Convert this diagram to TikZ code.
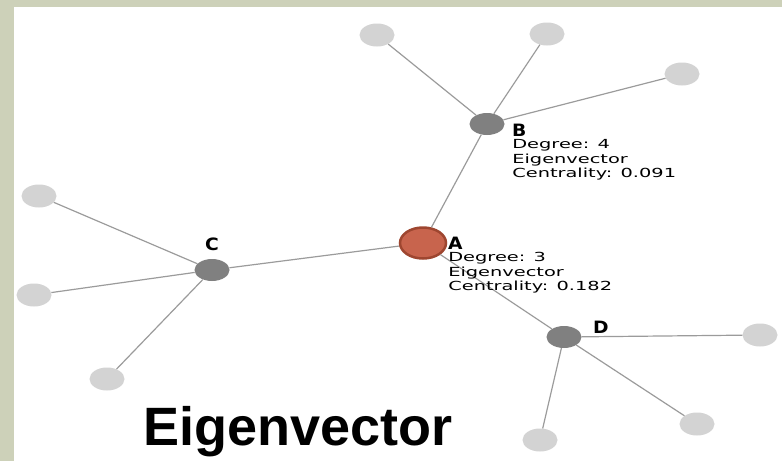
\documentclass[tikz,border=0pt]{standalone}
\usepackage{fontspec}
\setmainfont{DejaVu Sans}
\newfontfamily\titlefont{Liberation Sans}
\usetikzlibrary{shapes,positioning,calc}

\definecolor{bandgreen}{RGB}{205,209,185}
\definecolor{hubgrey}{RGB}{128,128,128}
\definecolor{leafgrey}{RGB}{211,211,211}
\definecolor{edgegrey}{RGB}{155,155,155}
\definecolor{afill}{RGB}{200,100,77}
\definecolor{aborder}{RGB}{158,70,48}

\begin{document}
\begin{tikzpicture}[x=1pt,y=-1pt]
  % Define styles
  \tikzstyle{hub} = [ellipse, fill=hubgrey, minimum width=35pt, minimum height=22pt, inner sep=0pt]
  \tikzstyle{leaf} = [ellipse, fill=leafgrey, minimum width=35pt, minimum height=23pt, inner sep=0pt]
  \tikzstyle{focus} = [ellipse, draw=aborder, line width=2.5pt, fill=afill, minimum width=46pt, minimum height=31pt, inner sep=0pt]
  \tikzstyle{link} = [edgegrey, line width=1.2pt]
  \tikzstyle{tag} = [font=\bfseries\fontsize{17}{17}\selectfont, inner sep=0pt, anchor=base west, xscale=1.1, transform shape]
  \tikzstyle{info} = [font=\fontsize{12.5}{14.7}\selectfont, align=left, inner sep=0pt, anchor=north west, xscale=1.55, transform shape]

  % Frame of the slide
  \useasboundingbox (0,0) rectangle (782,461);
  \fill [bandgreen] (0,0) rectangle (782,7);
  \fill [bandgreen] (0,0) rectangle (14,461);

  % Central and hub nodes
  \node [focus] (a) at (423,243) {};
  \node [hub] (b) at (487,124) {};
  \node [hub] (c) at (212,270) {};
  \node [hub] (d) at (564,337) {};

  % Outer nodes
  \node [leaf] (b1) at (377,35) {};
  \node [leaf] (b2) at (547,34) {};
  \node [leaf] (b3) at (682,74) {};
  \node [leaf] (c1) at (39,196) {};
  \node [leaf] (c2) at (34,295) {};
  \node [leaf] (c3) at (107,379) {};
  \node [leaf] (d1) at (760,335) {};
  \node [leaf] (d2) at (697,424) {};
  \node [leaf] (d3) at (540,440) {};

  % Edges
  \draw [link] (a) -- (b);
  \draw [link] (a) -- (c);
  \draw [link] (a) -- (d);
  \draw [link] (b) -- (b1);
  \draw [link] (b) -- (b2);
  \draw [link] (b) -- (b3);
  \draw [link] (c) -- (c1);
  \draw [link] (c) -- (c2);
  \draw [link] (c) -- (c3);
  \draw [link] (d) -- (d1);
  \draw [link] (d) -- (d2);
  \draw [link] (d) -- (d3);

  % Labels
  \node [tag] (atag) at (448,249) {A};
  \node [tag] (btag) at (512,136) {B};
  \node [tag] (ctag) at (205,250) {C};
  \node [tag] (dtag) at (593,333) {D};
  \node [info] (ainfo) at (448,252) {Degree: 3\\Eigenvector\\Centrality: 0.182};
  \node [info] (binfo) at (512,139) {Degree: 4\\Eigenvector\\Centrality: 0.091};

  % Title
  \node [font=\titlefont\bfseries\fontsize{54}{54}\selectfont, anchor=base west, inner sep=0pt] (title) at (143,445) {Eigenvector};
\end{tikzpicture}
\end{document}
